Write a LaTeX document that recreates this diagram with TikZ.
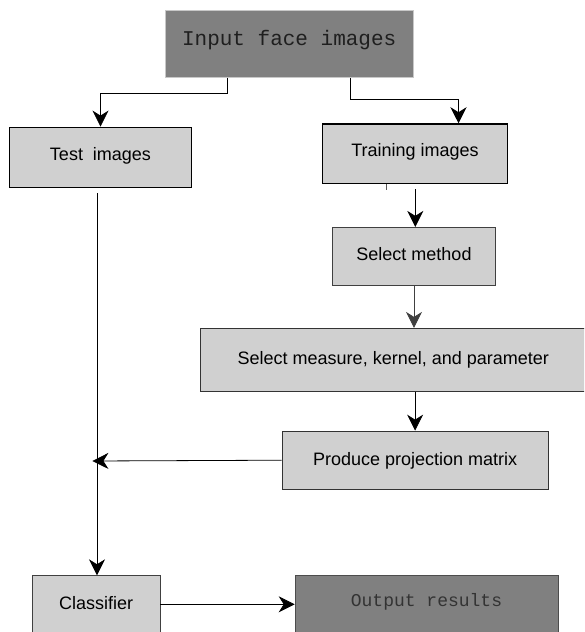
\documentclass[tikz,border=0pt]{standalone}
\usepackage{fontspec}
\setmainfont{Liberation Sans}
\newfontfamily\monofont{Liberation Mono}
\usetikzlibrary{arrows.meta,calc}
\definecolor{boxgray}{HTML}{D0D0D0}
\definecolor{darkbox}{HTML}{808080}
\definecolor{edgegray}{HTML}{C8C8C8}
\tikzset{
  lightbox/.style={draw=black, line width=0.8pt, fill=boxgray, rectangle, inner sep=0pt,
    font=\fontsize{18}{21}\selectfont, text=black, text height=13pt},
  darkboxst/.style={rectangle, fill=darkbox, inner sep=0pt, draw=edgegray, line width=0.6pt},
  arr/.style={draw=black, line width=0.8pt, -{Stealth[length=16pt,width=16pt,inset=5pt]}},
  conn/.style={draw=black, line width=0.8pt}
}
\begin{document}
\begin{tikzpicture}[x=1pt,y=-1pt]
\useasboundingbox (0,0) rectangle (584,632);
\fill[white] (0,0) rectangle (584,632);
\clip (0,0) rectangle (584,632);

\node[darkboxst, minimum width=248.4pt, minimum height=67.7pt, text height=13.3pt, text depth=9pt,
  font=\monofont\fontsize{21}{24}\selectfont, text=black!88] (in) at (289.2,43.8) {Input face images};
\node[lightbox, minimum width=182.5pt, minimum height=60pt, text depth=5.6pt] (test) at (100.5,157) {Test\ \ images};
\node[lightbox, line width=1.6pt, minimum width=185pt, minimum height=59.3pt, text depth=7.4pt] (train) at (415,153.7) {Training images};
\node[lightbox, draw=black!75, minimum width=162.7pt, minimum height=58pt, text depth=5.2pt] (sm) at (414,256.3) {Select method};
\node[lightbox, draw=black!80, minimum width=386pt, minimum height=63pt, text depth=4.2pt] (meas) at (393.3,359.8) {Select measure, kernel, and parameter};
\node[lightbox, draw=black!80, minimum width=266.2pt, minimum height=58.3pt, text depth=3pt] (prod) at (415.1,460.2) {Produce projection matrix};
\node[lightbox, draw=black!75, minimum width=127.7pt, minimum height=69.3pt, text depth=14.7pt] (cls) at (96.2,610.35) {Classifier};
\node[darkboxst, draw=black!70, minimum width=263pt, minimum height=69.3pt, text height=11.7pt, text depth=19.1pt,
  font=\monofont\fontsize{18}{21}\selectfont, text=black!80] (out) at (426.5,610.35) {Output results};

% connectors
\coordinate (tstub) at (386.5,183);
\coordinate (tstart) at (415.3,189);
\coordinate (vstart) at (97,193);
\coordinate (jn) at (92.4,461);
\coordinate (cy) at (0,604.3);

\draw[arr] ([xshift=-61.5pt]in.south) -- ++(0,15) -| (test.north);
\draw[arr] ([xshift=61.5pt]in.south) -- ++(0,21.3) -| ([xshift=43.5pt]train.north);
\draw[conn, draw=black!65, line width=1.3pt] (train.south -| tstub) -- ++(0,6);
\draw[arr] (tstart) -- (tstart |- sm.north);
\draw[arr, draw=black!75] (sm.south) -- (sm.south |- meas.north);
\draw[arr] (prod.north |- meas.south) -- (prod.north);
\draw[arr] (prod.west) -- (jn);
\draw[arr] (vstart) -- (vstart |- cls.north);
\draw[arr] (cls.east |- cy) -- (out.west |- cy);
\end{tikzpicture}
\end{document}
